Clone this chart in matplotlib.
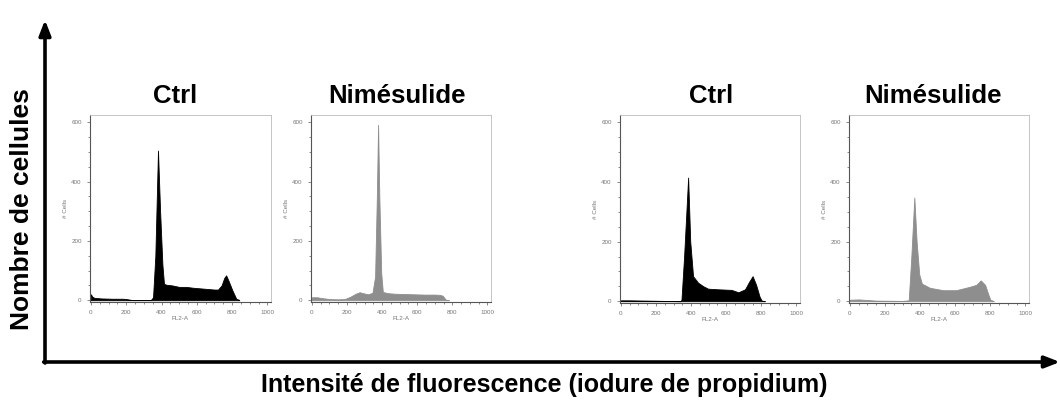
import numpy as np
import matplotlib as mpl
mpl.use('Agg')
import matplotlib.pyplot as plt
from matplotlib.ticker import MultipleLocator

plt.rcParams['font.family'] = ['Liberation Sans', 'DejaVu Sans']

W, H = 1060, 401

# histogram outlines (FL2-A channel, cell counts)
titles = ['Ctrl', 'Nimésulide', 'Ctrl', 'Nimésulide']

ctrl1_x = [0, 8, 20, 60, 120, 180, 200, 230, 340, 352, 365, 380, 392, 405, 414, 430, 460,
           500, 540, 580, 620, 660, 700, 720, 740, 755, 766, 780, 800, 823, 840]
ctrl1_y = [20, 12, 8, 6, 5, 5, 4, 1, 1, 10, 150, 505, 300, 120, 55, 52, 50,
           45, 45, 42, 40, 38, 36, 36, 50, 75, 84, 65, 35, 5, 1]

nim1_x = [0, 30, 60, 100, 150, 187, 220, 250, 272, 290, 320, 345, 360, 370, 377, 384, 395,
          404, 430, 470, 520, 580, 640, 700, 730, 745, 762, 780]
nim1_y = [10, 10, 7, 4, 3, 4, 12, 22, 27, 24, 20, 25, 80, 350, 592, 350, 90,
          28, 24, 22, 21, 20, 19, 19, 18, 15, 2, 0]

ctrl2_x = [0, 50, 150, 250, 340, 345, 360, 383, 395, 411, 440, 470, 497, 554, 630, 669,
           707, 730, 750, 770, 790, 802, 820]
ctrl2_y = [3, 3, 2, 1, 0, 5, 150, 415, 200, 84, 62, 50, 42, 40, 38, 30,
           40, 65, 84, 55, 15, 2, 0]

nim2_x = [0, 50, 100, 150, 300, 335, 350, 367, 380, 395, 410, 456, 531, 605, 680, 720,
          745, 770, 790, 800, 820]
nim2_y = [5, 6, 4, 2, 1, 3, 150, 348, 200, 90, 59, 45, 37, 37, 48, 55,
          70, 55, 20, 5, 0]

series_x = [ctrl1_x, nim1_x, ctrl2_x, nim2_x]
series_y = [ctrl1_y, nim1_y, ctrl2_y, nim2_y]
colors = ['black', '#8e8e8e', 'black', '#8e8e8e']

# panel boxes in pixels: left, top, right, bottom
boxes = [(90, 115, 271, 302), (311, 115, 491, 302), (620, 115, 800, 303), (849, 115, 1029, 303)]
title_cx = [175, 397, 711, 933]


def px_rect(l, t, r, b):
    return [l / W, 1 - b / H, (r - l) / W, (b - t) / H]


fig = plt.figure(figsize=(W / 100, H / 100), dpi=100)

# big frame with arrows
big = fig.add_axes([0, 0, 1, 1])
big.set_xlim(0, W)
big.set_ylim(H, 0)
big.axis('off')
big.annotate('', xy=(45, 20), xytext=(45, 363),
             arrowprops=dict(arrowstyle='-|>,head_length=0.9,head_width=0.35', lw=2.6, color='black',
                             shrinkA=0, shrinkB=0))
big.annotate('', xy=(1060, 362), xytext=(43.7, 362),
             arrowprops=dict(arrowstyle='-|>,head_length=0.9,head_width=0.35', lw=2.6, color='black',
                             shrinkA=0, shrinkB=0))
big.text(22, 209, 'Nombre de cellules', rotation=90, ha='center', va='center',
         fontsize=19, fontweight='bold')
big.text(544, 385, 'Intensité de fluorescence (iodure de propidium)', ha='center', va='center',
         fontsize=18, fontweight='bold')

for i in range(4):
    ax = fig.add_axes(px_rect(*boxes[i]))
    ax.fill_between(series_x[i], series_y[i], 0, color=colors[i], lw=0.6, edgecolor=colors[i])
    ax.set_xlim(-5, 1020)
    ax.set_ylim(-6, 625)
    ax.xaxis.set_major_locator(MultipleLocator(200))
    ax.xaxis.set_minor_locator(MultipleLocator(50))
    ax.yaxis.set_major_locator(MultipleLocator(200))
    ax.yaxis.set_minor_locator(MultipleLocator(50))
    ax.tick_params(which='both', direction='out', colors='#777777', labelsize=4.5, width=0.6)
    ax.tick_params(which='major', length=2.5)
    ax.tick_params(which='minor', length=1.5)
    for s in ['left', 'bottom']:
        ax.spines[s].set_color('#555555')
        ax.spines[s].set_linewidth(0.8)
    for s in ['top', 'right']:
        ax.spines[s].set_color('#bbbbbb')
        ax.spines[s].set_linewidth(0.6)
    ax.set_xlabel('FL2-A', fontsize=4.5, color='#777777', labelpad=0.5)
    ax.set_ylabel('# Cells', fontsize=4.5, color='#777777', labelpad=2)
    big.text(title_cx[i], 103, titles[i], ha='center', va='baseline',
             fontsize=18.5, fontweight='bold')

fig.savefig('out.png', dpi=100)
